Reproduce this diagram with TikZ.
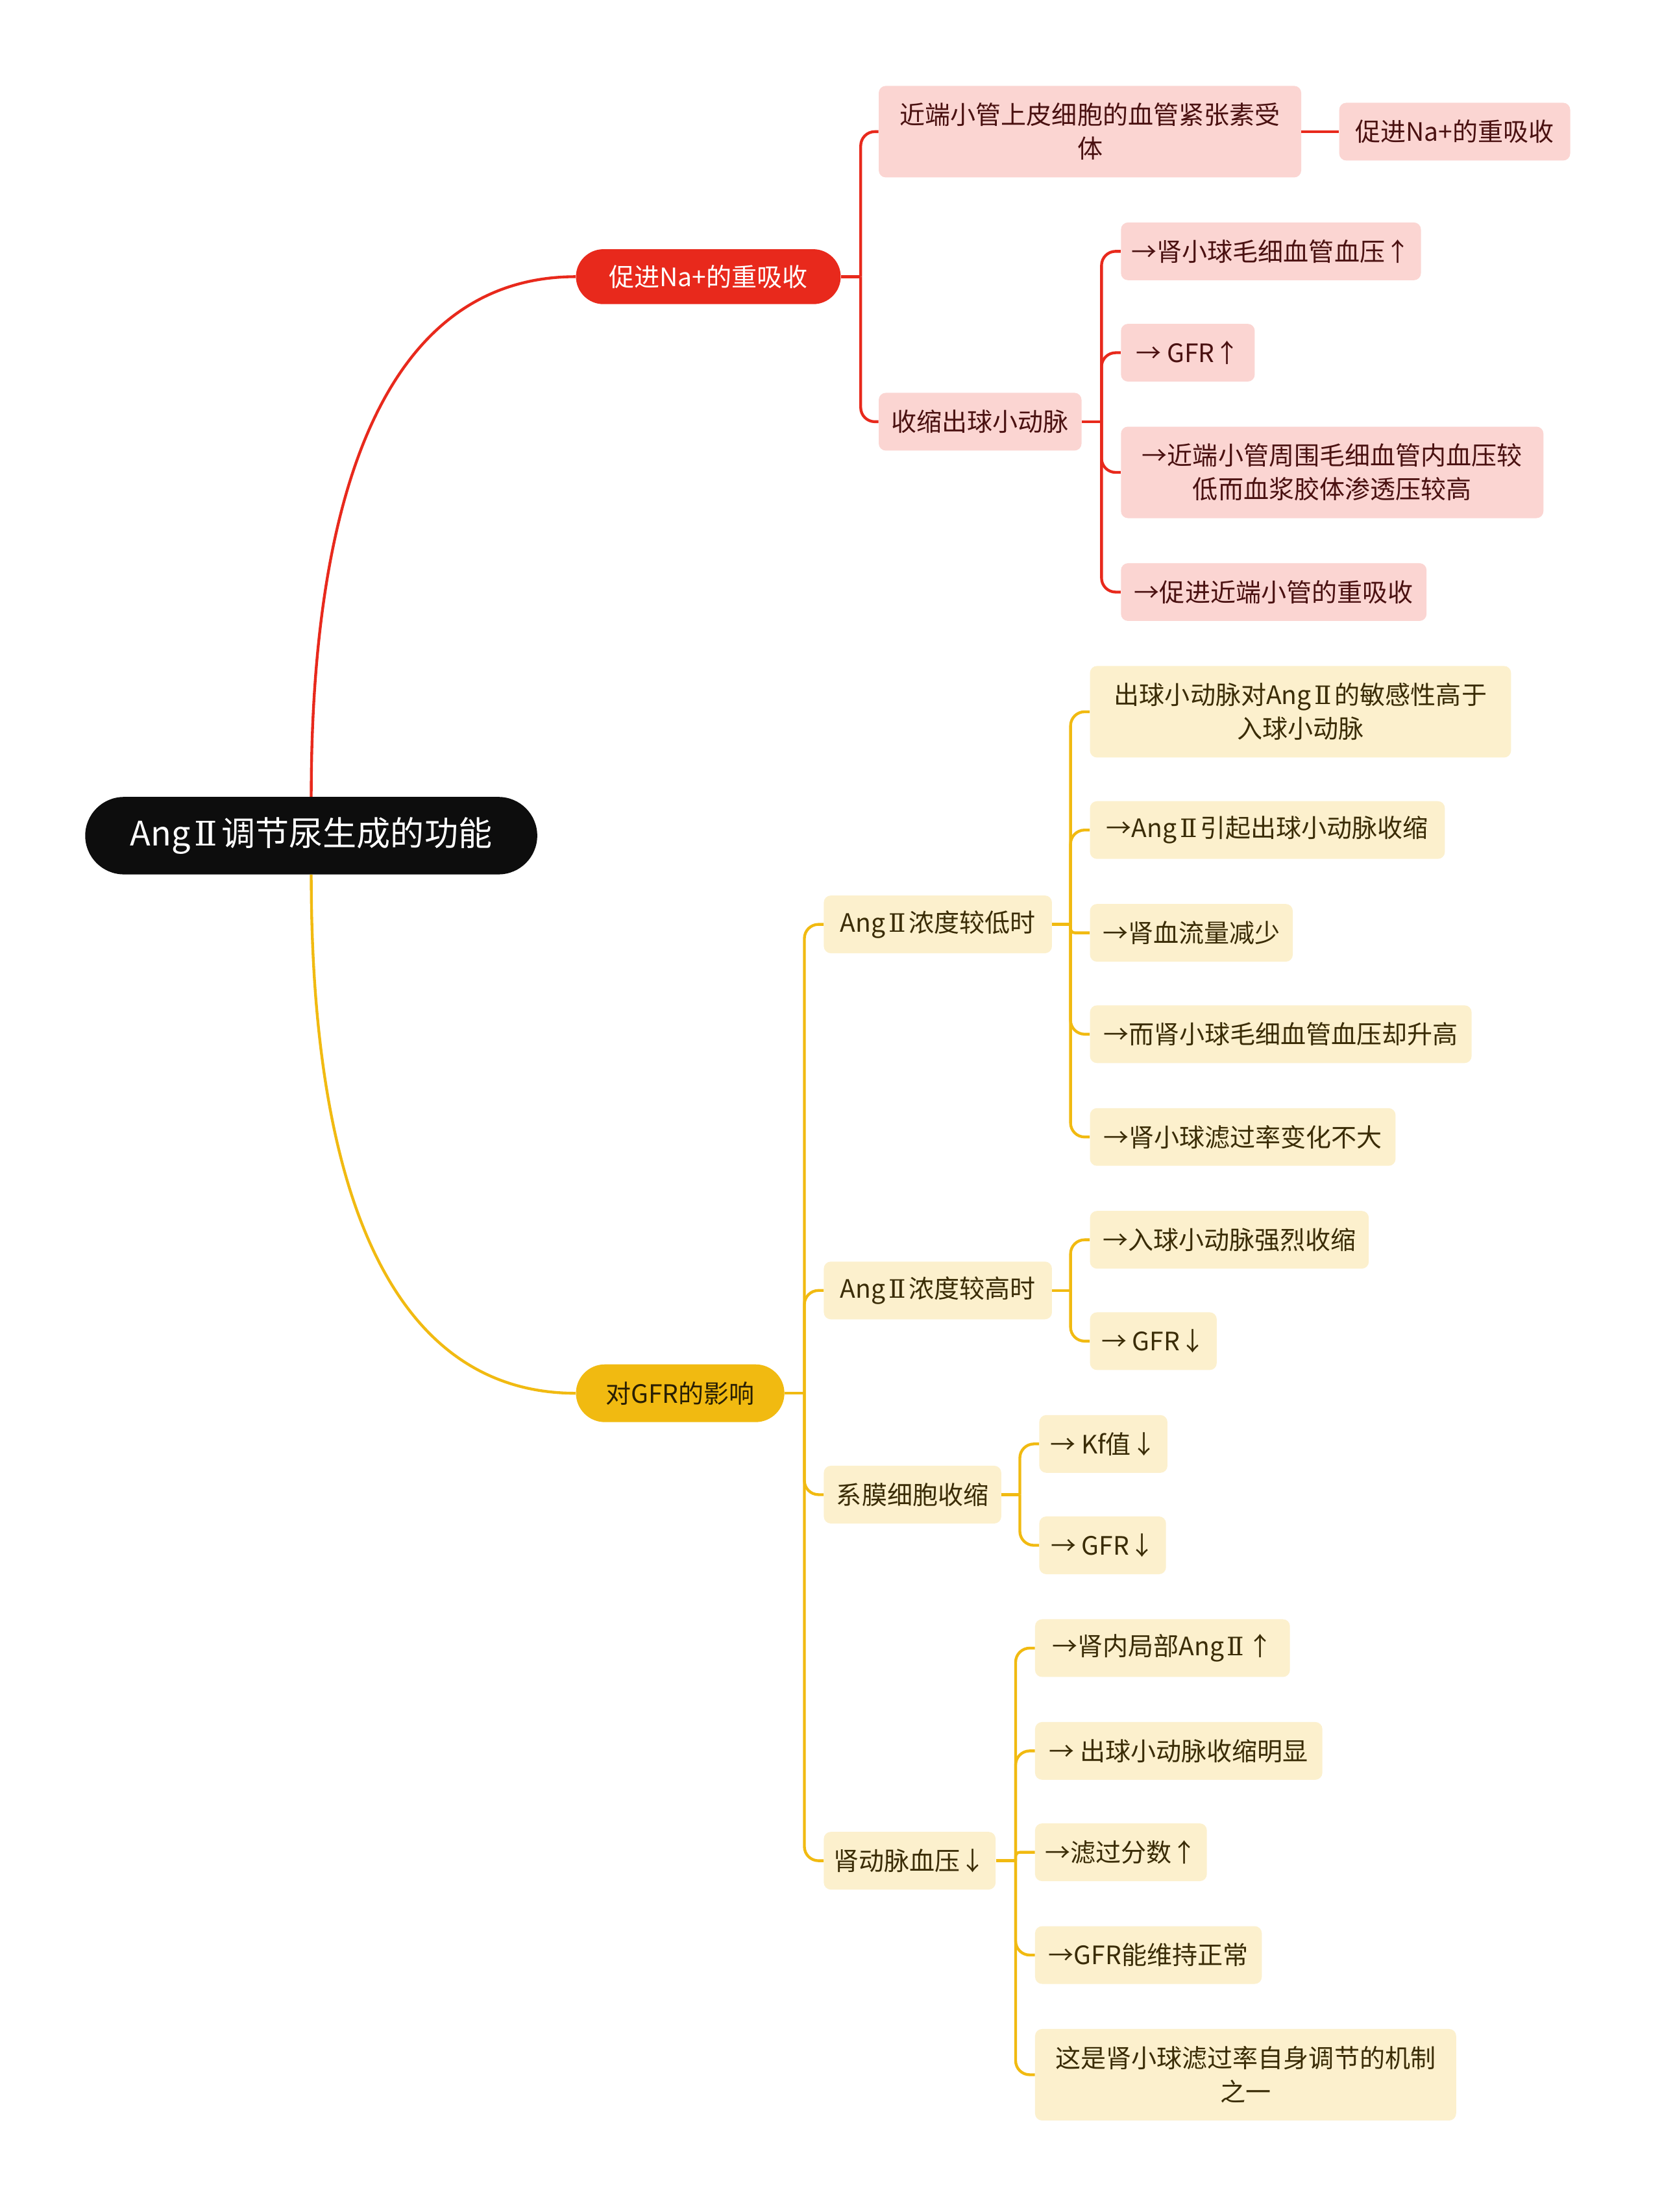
\documentclass[tikz,border=0pt]{standalone}
\usepackage{fontspec}
\setmainfont{Noto Sans CJK SC}
\newfontfamily\romanfont{DejaVu Serif}
\newcommand{\romtwo}{\hspace{0.12em}{\romanfont Ⅱ}\hspace{0.12em}}

\definecolor{mapred}{HTML}{E8291C}
\definecolor{mappink}{HTML}{FBD5D2}
\definecolor{redtext}{HTML}{4A1111}
\definecolor{mapyellow}{HTML}{F1BA11}
\definecolor{mapcream}{HTML}{FCF0CD}
\definecolor{yellowtext}{HTML}{3A2C06}

\tikzset{every node/.style={inner xsep=4pt, inner ysep=2pt, align=center, font=\fontsize{18}{24}\selectfont},
	rootnode/.style={fill=black!95, text=white, rounded corners=27.5pt, minimum height=55pt, font=\fontsize{24}{28}\selectfont},
	redpill/.style={fill=mapred, text=white, rounded corners=19.5pt, minimum height=39pt},
	yellowpill/.style={fill=mapyellow, text=yellowtext!70!black, rounded corners=20.5pt, minimum height=41pt},
	redleaf/.style={fill=mappink, text=redtext, rounded corners=5pt, minimum height=41pt},
	yellowleaf/.style={fill=mapcream, text=yellowtext, rounded corners=5pt, minimum height=41pt},
	redline/.style={draw=mapred, line width=2pt},
	yellowline/.style={draw=mapyellow, line width=2pt},
	elbow/.style={rounded corners=10pt}}

\begin{document}
\begin{tikzpicture}[x=1pt, y=-1pt]
				\fill[white] (0,0) rectangle (1180,1571);
				\useasboundingbox (0,0) rectangle (1180,1571);
				% root and the two main branches
				\node[rootnode, minimum width=321pt] (root) at (221,593.5) {Ang\romtwo 调节尿生成的功能};
				\node[redpill, minimum width=188pt] (rp) at (503,196.5) {促进Na+的重吸收};
				\node[yellowpill, minimum width=148pt] (yp) at (483,989.5) {对GFR的影响};
				\draw[redline] (root.north) .. controls (221,337) and (280,196.5) .. (rp.west);
				\draw[yellowline] (root.south) .. controls (221,850) and (280,989.5) .. (yp.west);
				% red branch
				\node[redleaf, minimum width=300pt, minimum height=65pt] (n1) at (774,93.5) {近端小管上皮细胞的血管紧张素受\\体};
				\node[redleaf, minimum width=164pt] (n11) at (1033,93.5) {促进Na+的重吸收};
				\node[redleaf, minimum width=144pt] (n2) at (696,299.5) {收缩出球小动脉};
				\node[redleaf, minimum width=213pt] (n21) at (902.5,178.5) {→肾小球毛细血管血压↑};
				\node[redleaf, minimum width=95pt] (n22) at (843.5,250.5) {→ GFR↑};
				\node[redleaf, minimum width=300pt, minimum height=65pt] (n23) at (946,335.5) {→近端小管周围毛细血管内血压较\\低而血浆胶体渗透压较高};
				\node[redleaf, minimum width=217pt] (n24) at (904.5,420.5) {→促进近端小管的重吸收};
				\draw[redline] (rp.east) -- ++(14,0) coordinate (rpj);
				\foreach \c in {n1,n2} \draw[redline, elbow] (rpj) |- (\c.west);
				\draw[redline] (n1.east) -- (n11.west);
				\draw[redline] (n2.east) -- ++(14,0) coordinate (n2j);
				\foreach \c in {n21,n22,n23,n24} \draw[redline, elbow] (n2j) |- (\c.west);
				% yellow branch
				\node[yellowleaf, minimum width=162pt] (y1) at (666,656.5) {Ang\romtwo 浓度较低时};
				\node[yellowleaf, minimum width=299pt, minimum height=65pt] (y11) at (923.5,505.5) {出球小动脉对Ang\romtwo 的敏感性高于\\入球小动脉};
				\node[yellowleaf, minimum width=252pt] (y12) at (900,589.5) {→Ang\romtwo 引起出球小动脉收缩};
				\node[yellowleaf, minimum width=144pt] (y13) at (846,662.5) {→肾血流量减少};
				\node[yellowleaf, minimum width=271pt] (y14) at (909.5,734.5) {→而肾小球毛细血管血压却升高};
				\node[yellowleaf, minimum width=217pt] (y15) at (882.5,807.5) {→肾小球滤过率变化不大};
				\node[yellowleaf, minimum width=162pt] (y2) at (666,916.5) {Ang\romtwo 浓度较高时};
				\node[yellowleaf, minimum width=198pt] (y21) at (873,880.5) {→入球小动脉强烈收缩};
				\node[yellowleaf, minimum width=90pt] (y22) at (819,952.5) {→ GFR↓};
				\node[yellowleaf, minimum width=126pt] (y3) at (648,1061.5) {系膜细胞收缩};
				\node[yellowleaf, minimum width=91pt] (y31) at (783.5,1025.5) {→ Kf值↓};
				\node[yellowleaf, minimum width=90pt] (y32) at (783,1097.5) {→ GFR↓};
				\node[yellowleaf, minimum width=122pt] (y4) at (646,1321.5) {肾动脉血压↓};
				\node[yellowleaf, minimum width=181pt] (y41) at (825.5,1170.5) {→肾内局部Ang\romtwo↑};
				\node[yellowleaf, minimum width=204pt] (y42) at (837,1243.5) {→ 出球小动脉收缩明显};
				\node[yellowleaf, minimum width=122pt] (y43) at (796,1315.5) {→滤过分数↑};
				\node[yellowleaf, minimum width=161pt] (y44) at (815.5,1388.5) {→GFR能维持正常};
				\node[yellowleaf, minimum width=299pt, minimum height=65pt] (y45) at (884.5,1473.5) {这是肾小球滤过率自身调节的机制\\之一};
				\draw[yellowline] (yp.east) -- ++(14,0) coordinate (ypj);
				\foreach \c in {y1,y2,y3,y4} \draw[yellowline, elbow] (ypj) |- (\c.west);
				\draw[yellowline] (y1.east) -- ++(13,0) coordinate (y1j);
				\foreach \c in {y11,y12,y14,y15} \draw[yellowline, elbow] (y1j) |- (\c.west);
				\draw[yellowline, rounded corners=3pt] (y1j) |- (y13.west);
				\draw[yellowline] (y2.east) -- ++(13,0) coordinate (y2j);
				\foreach \c in {y21,y22} \draw[yellowline, elbow] (y2j) |- (\c.west);
				\draw[yellowline] (y3.east) -- ++(13,0) coordinate (y3j);
				\foreach \c in {y31,y32} \draw[yellowline, elbow] (y3j) |- (\c.west);
				\draw[yellowline] (y4.east) -- ++(14,0) coordinate (y4j);
				\foreach \c in {y41,y42,y44,y45} \draw[yellowline, elbow] (y4j) |- (\c.west);
				\draw[yellowline, rounded corners=3pt] (y4j) |- (y43.west);
			\end{tikzpicture}
\end{document}
